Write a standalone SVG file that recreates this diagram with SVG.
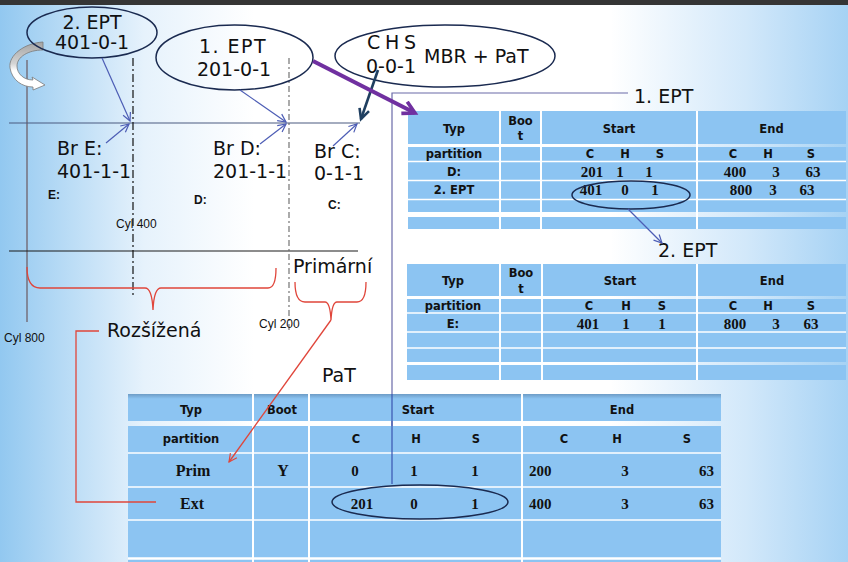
<svg xmlns="http://www.w3.org/2000/svg" width="848" height="562" viewBox="0 0 848 562">
<defs>
<linearGradient id="bg" x1="0" y1="0" x2="1" y2="0">
<stop offset="0" stop-color="#92c8f0"/>
<stop offset="0.17" stop-color="#e6f2fc"/>
<stop offset="0.3" stop-color="#ffffff"/>
<stop offset="0.72" stop-color="#ffffff"/>
<stop offset="0.88" stop-color="#d2e8fa"/>
<stop offset="1" stop-color="#a6d2f4"/>
</linearGradient>
<linearGradient id="curl" x1="0" y1="0" x2="0" y2="1">
<stop offset="0" stop-color="#a4a4a4"/>
<stop offset="0.45" stop-color="#d4d4d4"/>
<stop offset="0.6" stop-color="#ffffff"/>
<stop offset="1" stop-color="#ffffff"/>
</linearGradient>
<linearGradient id="hdr" x1="0" y1="0" x2="0" y2="1">
<stop offset="0" stop-color="#6d9cc6"/>
<stop offset="0.18" stop-color="#8cc4f2"/>
<stop offset="1" stop-color="#8cc4f2"/>
</linearGradient>
<marker id="ab" markerWidth="12" markerHeight="12" refX="9" refY="5" orient="auto" markerUnits="userSpaceOnUse">
<path d="M1,1 L9,5 L1,9" fill="none" stroke="#4d5db5" stroke-width="1.2"/>
</marker>
<marker id="an" markerWidth="14" markerHeight="14" refX="11" refY="6" orient="auto" markerUnits="userSpaceOnUse">
<path d="M1,1 L11,6 L1,11" fill="none" stroke="#1f3f60" stroke-width="2.6"/>
</marker>
<marker id="ap" markerWidth="18" markerHeight="18" refX="14" refY="8" orient="auto" markerUnits="userSpaceOnUse">
<path d="M2,1.5 L14,8 L2,14.5" fill="none" stroke="#7030a0" stroke-width="3.6"/>
</marker>
<marker id="ar" markerWidth="12" markerHeight="12" refX="9" refY="5" orient="auto" markerUnits="userSpaceOnUse">
<path d="M1,1 L9,5 L1,9" fill="none" stroke="#e0453a" stroke-width="1.2"/>
</marker>
</defs>
<style>
.big{font-family:"DejaVu Sans",sans-serif;font-size:19px;fill:#111}
.sm{font-family:"Liberation Sans",Arial,sans-serif;font-size:12px;fill:#111}
.smb{font-family:"Liberation Sans",Arial,sans-serif;font-size:12px;font-weight:bold;fill:#111}
.th{font-family:"DejaVu Sans",sans-serif;font-size:11.5px;font-weight:bold;fill:#111;text-anchor:middle}
.tv{font-family:"Liberation Serif","Times New Roman",serif;font-size:15px;font-weight:bold;fill:#111;text-anchor:middle}
.tvs{font-family:"Liberation Serif","Times New Roman",serif;font-size:15px;font-weight:bold;fill:#111;text-anchor:start}
.tve{font-family:"Liberation Serif","Times New Roman",serif;font-size:15px;font-weight:bold;fill:#111;text-anchor:end}
.tp{font-family:"Liberation Serif","Times New Roman",serif;font-size:16px;font-weight:bold;fill:#111;text-anchor:middle}
.cell{fill:#8cc4f2}
.wl{stroke:#ffffff;stroke-width:1.5}
.wc{stroke:#ffffff;stroke-width:2}
.ell{fill:none;stroke:#1a2a50;stroke-width:1.5}
.blue{stroke:#4d5db5;stroke-width:1.2;fill:none}
.red{stroke:#e0453a;stroke-width:1.3;fill:none}
</style>
<rect x="0" y="0" width="848" height="562" fill="url(#bg)"/>
<rect x="0" y="0" width="848" height="5" fill="#353535"/>

<g id="axis">
<line x1="27" y1="60" x2="27" y2="322" stroke="#80889a" stroke-width="2"/>
<line x1="9" y1="123" x2="360" y2="123" stroke="#4a5a80" stroke-width="1.2"/>
<line x1="9" y1="251" x2="358" y2="251" stroke="#1a1a1a" stroke-width="1.2"/>
<line x1="133" y1="58" x2="133" y2="298" stroke="#111" stroke-width="1.2" stroke-dasharray="8 3 2 3"/>
<line x1="289" y1="58" x2="289" y2="330" stroke="#666" stroke-width="1.1" stroke-dasharray="6 3 2 3"/>
</g>

<g id="curl-arrow">
<path d="M43,42 C25,43 8,55 10,68 C12,80 22,87 33,87 L33,90 L45,85 L32,77 L33,80 C24,80 17,74 17,66 C17,57 28,50 43,50 Z" fill="url(#curl)" stroke="#7a7a7a" stroke-width="0.8"/>
</g>

<g id="frame">
<polyline points="628,93 392,93 392,484" fill="none" stroke="#6a6aa8" stroke-width="1.2"/>
</g>

<g id="node-ept2">
<ellipse class="ell" cx="92" cy="32.5" rx="65" ry="25.5"/>
<text class="big" x="92" y="29" text-anchor="middle" font-size="17.5">2. EPT</text>
<text class="big" x="92" y="49" text-anchor="middle" font-size="17.5">401-0-1</text>
</g>

<g id="node-ept1">
<ellipse class="ell" cx="234.5" cy="57.5" rx="78.5" ry="32.5"/>
<text class="big" x="233" y="53" text-anchor="middle" letter-spacing="1.5">1. EPT</text>
<text class="big" x="234" y="76" text-anchor="middle">201-0-1</text>
</g>

<g id="node-mbr">
<ellipse class="ell" cx="445" cy="56" rx="110" ry="31"/>
<text class="big" y="49" font-size="18"><tspan x="367">C</tspan><tspan x="385">H</tspan><tspan x="404">S</tspan></text>
<text class="big" x="366" y="73" font-size="18">0-0-1</text>
<text class="big" x="424" y="63" font-size="18">MBR + PaT</text>
</g>

<g id="labels">
<text class="big" x="57" y="155">Br E:</text>
<text class="big" x="57" y="178">401-1-1</text>
<text class="big" x="213" y="155">Br D:</text>
<text class="big" x="213" y="178">201-1-1</text>
<text class="big" x="314" y="158">Br C:</text>
<text class="big" x="314" y="180">0-1-1</text>
<text class="smb" x="48" y="199">E:</text>
<text class="smb" x="194" y="204">D:</text>
<text class="smb" x="328" y="209">C:</text>
<text class="sm" x="116" y="228">Cyl 400</text>
<text class="sm" x="259" y="328">Cyl 200</text>
<text class="sm" x="4" y="342">Cyl 800</text>
<text class="big" x="293" y="273" font-size="17">Primární</text>
<text class="big" x="107" y="337" font-size="18">Rozšížená</text>
<text class="big" x="634" y="103" font-size="20">1. EPT</text>
<text class="big" x="658" y="257" font-size="20">2. EPT</text>
<text class="big" x="322" y="382">PaT</text>
</g>

<g id="table-ept1">
<rect class="cell" x="408" y="111" width="438" height="33"/>
<rect class="cell" x="408" y="147" width="438" height="65"/>
<rect class="cell" x="408" y="217" width="438" height="12"/>
<line class="wl" x1="408" y1="161.5" x2="846" y2="161.5"/>
<line class="wl" x1="408" y1="180.5" x2="846" y2="180.5"/>
<line class="wl" x1="408" y1="199.5" x2="846" y2="199.5"/>
<line class="wc" x1="500" y1="111" x2="500" y2="229"/>
<line class="wc" x1="541" y1="111" x2="541" y2="229"/>
<line class="wc" x1="697" y1="111" x2="697" y2="229"/>
<text class="th" x="454" y="133">Typ</text>
<text class="th" x="520.5" y="125">Boo</text>
<text class="th" x="520.5" y="140">t</text>
<text class="th" x="619" y="133">Start</text>
<text class="th" x="771.5" y="133">End</text>
<text class="th" x="454" y="158">partition</text>
<text class="th" x="590" y="158">C</text>
<text class="th" x="625" y="158">H</text>
<text class="th" x="660" y="158">S</text>
<text class="th" x="733" y="158">C</text>
<text class="th" x="768" y="158">H</text>
<text class="th" x="811" y="158">S</text>
<text class="th" x="454" y="176">D:</text>
<text class="tv" x="592" y="177">201</text>
<text class="tv" x="620" y="177">1</text>
<text class="tv" x="649" y="177">1</text>
<text class="tv" x="735" y="177">400</text>
<text class="tv" x="776" y="177">3</text>
<text class="tv" x="813" y="177">63</text>
<text class="th" x="454" y="194">2. EPT</text>
<text class="tv" x="591" y="195">401</text>
<text class="tv" x="625" y="195">0</text>
<text class="tv" x="655" y="195">1</text>
<text class="tv" x="741" y="195">800</text>
<text class="tv" x="773" y="195">3</text>
<text class="tv" x="807" y="195">63</text>
<ellipse class="ell" cx="631" cy="195" rx="59" ry="14"/>
</g>

<g id="table-ept2">
<rect class="cell" x="407" y="264" width="439" height="32"/>
<rect class="cell" x="407" y="299" width="439" height="63"/>
<rect class="cell" x="407" y="365" width="439" height="15"/>
<line class="wl" x1="407" y1="313" x2="846" y2="313"/>
<line class="wl" x1="407" y1="332" x2="846" y2="332"/>
<line class="wl" x1="407" y1="348" x2="846" y2="348"/>
<line class="wc" x1="500" y1="264" x2="500" y2="380"/>
<line class="wc" x1="542" y1="264" x2="542" y2="380"/>
<line class="wc" x1="697" y1="264" x2="697" y2="380"/>
<text class="th" x="453" y="285">Typ</text>
<text class="th" x="521" y="277">Boo</text>
<text class="th" x="521" y="293">t</text>
<text class="th" x="620" y="285">Start</text>
<text class="th" x="772" y="285">End</text>
<text class="th" x="453" y="310">partition</text>
<text class="th" x="589" y="310">C</text>
<text class="th" x="626" y="310">H</text>
<text class="th" x="662" y="310">S</text>
<text class="th" x="733" y="310">C</text>
<text class="th" x="768" y="310">H</text>
<text class="th" x="811" y="310">S</text>
<text class="th" x="453" y="328">E:</text>
<text class="tv" x="588" y="329">401</text>
<text class="tv" x="626" y="329">1</text>
<text class="tv" x="662" y="329">1</text>
<text class="tv" x="735" y="329">800</text>
<text class="tv" x="776" y="329">3</text>
<text class="tv" x="811" y="329">63</text>
</g>

<g id="table-pat">
<rect x="128" y="394" width="593" height="27" fill="url(#hdr)"/>
<rect class="cell" x="128" y="426" width="593" height="136"/>
<line class="wl" x1="128" y1="453" x2="721" y2="453"/>
<line class="wl" x1="128" y1="487" x2="721" y2="487"/>
<line class="wl" x1="128" y1="520" x2="721" y2="520"/>
<line x1="128" y1="558.5" x2="721" y2="558.5" stroke="#fff" stroke-width="2.5"/>
<line class="wc" x1="253" y1="394" x2="253" y2="562"/>
<line class="wc" x1="309" y1="394" x2="309" y2="562"/>
<line class="wc" x1="522" y1="394" x2="522" y2="562"/>
<text class="th" x="191" y="414">Typ</text>
<text class="th" x="282" y="414">Boot</text>
<text class="th" x="418" y="414">Start</text>
<text class="th" x="622" y="414">End</text>
<text class="th" x="191" y="443">partition</text>
<text class="th" x="356" y="443">C</text>
<text class="th" x="416" y="443">H</text>
<text class="th" x="476" y="443">S</text>
<text class="th" x="564" y="443">C</text>
<text class="th" x="617" y="443">H</text>
<text class="th" x="687" y="443">S</text>
<text class="tp" x="193" y="476">Prim</text>
<text class="tp" x="283" y="476">Y</text>
<text class="tv" x="355" y="476">0</text>
<text class="tv" x="414" y="476">1</text>
<text class="tv" x="475" y="476">1</text>
<text class="tvs" x="529" y="476">200</text>
<text class="tv" x="625" y="476">3</text>
<text class="tve" x="714" y="476">63</text>
<text class="tp" x="192" y="509">Ext</text>
<text class="tv" x="362" y="509">201</text>
<text class="tv" x="414" y="509">0</text>
<text class="tv" x="475" y="509">1</text>
<text class="tvs" x="529" y="509">400</text>
<text class="tv" x="625" y="509">3</text>
<text class="tve" x="714" y="509">63</text>
<line x1="392" y1="394" x2="392" y2="484" stroke="#3a55b0" stroke-width="1.2"/>
<ellipse class="ell" cx="420" cy="502" rx="88" ry="17"/>
</g>

<g id="connectors">
<line class="blue" x1="102" y1="58" x2="130" y2="121" marker-end="url(#ab)"/>
<line class="blue" x1="106" y1="143" x2="129" y2="124" marker-end="url(#ab)"/>
<line class="blue" x1="240" y1="90" x2="286" y2="122" marker-end="url(#ab)"/>
<line class="blue" x1="260" y1="144" x2="286" y2="124" marker-end="url(#ab)"/>
<line class="blue" x1="333" y1="146" x2="357" y2="124" marker-end="url(#ab)"/>
<line class="blue" x1="628" y1="209" x2="662" y2="243" marker-end="url(#ab)"/>
<line x1="378" y1="70" x2="361" y2="119" stroke="#1f3f60" stroke-width="2.6" marker-end="url(#an)"/>
<line x1="313" y1="61" x2="415" y2="113" stroke="#7030a0" stroke-width="4.2" marker-end="url(#ap)"/>
<path class="red" d="M27,267 Q27,288 40,288 L145,288 Q152,288 153,310 Q154,288 161,288 L268,288 Q276,288 276,268"/>
<path class="red" d="M295,282 Q295,302 305,302 L325,302 Q330,302 331,320 Q332,302 337,302 L357,302 Q366,302 366,282"/>
<line class="red" x1="331" y1="320" x2="229" y2="462" marker-end="url(#ar)"/>
<polyline class="red" points="99,331 76,331 76,502 156,502"/>
</g>
</svg>
